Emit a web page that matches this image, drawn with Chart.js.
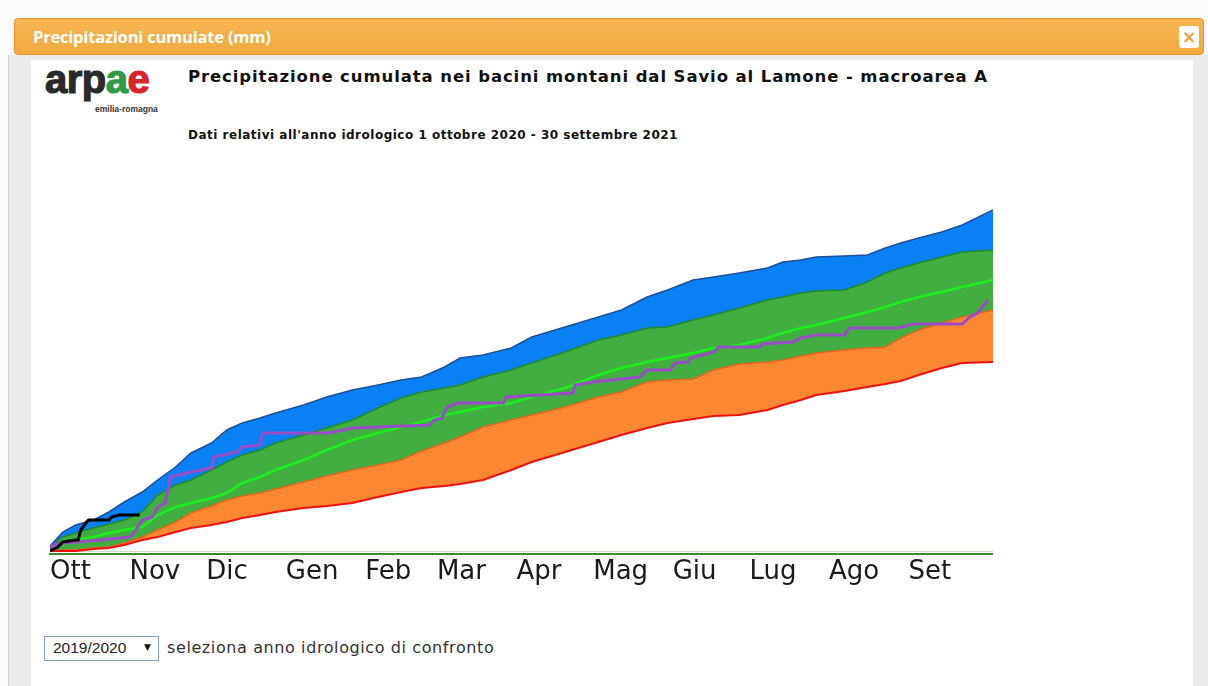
<!DOCTYPE html>
<html>
<head>
<meta charset="utf-8">
<script src="https://cdn.jsdelivr.net/npm/chart.js@4.4.1/dist/chart.umd.min.js"></script>
<style>
  html, body { margin:0; padding:0; }
  body { width:1208px; height:686px; overflow:hidden; background:#fbfbfb; position:relative; font-family:"DejaVu Sans", sans-serif; }
  .backdrop { position:absolute; left:8px; top:55px; width:1200px; height:631px; background:#ebebeb; border-left:1px solid #cfcfcf; }
  .panel { position:absolute; left:31px; top:60px; width:1162px; height:626px; background:#fff; }
  .header { position:absolute; left:14px; top:18px; width:1188px; height:35px; border:1px solid #e3952d; border-radius:4px;
            background:linear-gradient(to bottom, #f7b654 0%, #f2a83d 100%); }
  .header .t { position:absolute; left:18px; top:6px; color:#fff; font-family:"Open Sans", sans-serif; font-weight:700; font-size:16.5px; letter-spacing:-0.2px; }
  .header .x { position:absolute; right:4px; top:7px; width:20px; height:22px; background:#fff; border-radius:3px; color:#f0a03a;
               font-family:"DejaVu Sans", sans-serif; font-weight:bold; font-size:17px; line-height:22px; text-align:center; }
  .logo { position:absolute; left:45px; top:57px; font-family:"Liberation Sans", sans-serif; font-weight:bold; font-size:40px; letter-spacing:-0.5px; color:#2a2a2a; -webkit-text-stroke:1.2px currentColor; }
  .logo .g { color:#2f9a47; } .logo .r { color:#d8262c; }
  .logosub { position:absolute; left:95px; top:104px; font-family:"Liberation Sans", sans-serif; font-weight:bold; font-size:8.5px; color:#333; }
  .title { position:absolute; left:188px; top:67px; font-family:"DejaVu Sans", sans-serif; font-weight:bold; font-size:16.5px; letter-spacing:0.9px; color:#111; }
  .subtitle { position:absolute; left:188px; top:128px; font-family:"DejaVu Sans", sans-serif; font-weight:bold; font-size:12px; letter-spacing:0.5px; color:#111; }
  #chartBox { position:absolute; left:47px; top:201px; width:946px; height:393px; }
  .sel { position:absolute; left:44px; top:636px; width:113px; height:23px; border:1px solid #7ea3d3; background:#fff; box-sizing:content-box; }
  .sel .v { position:absolute; left:8px; top:2px; font-family:"Liberation Sans", sans-serif; font-size:15.5px; color:#222; }
  .sel .a { position:absolute; left:99px; top:5px; font-size:9px; color:#111; }
  .selLabel { position:absolute; left:167px; top:638px; font-family:"DejaVu Sans", sans-serif; font-size:16px; letter-spacing:0.6px; color:#333; }
</style>
</head>
<body>
<div class="backdrop"></div>
<div class="panel"></div>
<div class="header"><span class="t">Precipitazioni cumulate (mm)</span><span class="x">×</span></div>
<div class="logo">arp<span class="g">a</span><span class="r">e</span></div>
<div class="logosub">emilia-romagna</div>
<div class="title">Precipitazione cumulata nei bacini montani dal Savio al Lamone - macroarea A</div>
<div class="subtitle">Dati relativi all'anno idrologico 1 ottobre 2020 - 30 settembre 2021</div>
<div id="chartBox"><canvas id="c" width="946" height="393"></canvas></div>
<div class="sel"><span class="v">2019/2020</span><span class="a">▼</span></div>
<div class="selLabel">seleziona anno idrologico di confronto</div>

<script>
// Month ticks (day of hydrological year, starting 1 October)
const monthStartDays = [0,31,61,92,123,151,182,212,243,273,304,335];
const monthLabels = ['Ott','Nov','Dic','Gen','Feb','Mar','Apr','Mag','Giu','Lug','Ago','Set'];

// Climatological bands (cumulated mm)
const days = [0,5,10,17,23,29,36,42,49,55,63,69,75,82,88,99,108,118,128,137,145,154,160,169,180,188,201,214,223,233,241,251,259,269,280,286,293,299,310,319,326,332,339,348,356,368];
const maxVals = [20,76,104,124,156,196,236,284,336,392,432,484,512,532,552,584,616,644,664,684,696,736,772,784,812,856,896,936,964,1016,1044,1084,1096,1112,1132,1156,1164,1176,1180,1184,1212,1232,1252,1276,1304,1364];
const upperVals = [12,56,72,92,108,124,156,224,264,284,324,356,384,404,432,464,492,524,572,612,636,652,664,696,724,752,796,844,864,892,896,924,944,972,1004,1016,1032,1040,1044,1076,1112,1132,1152,1176,1196,1204];
const meanVals = [8,32,44,56,72,84,96,144,176,192,212,232,272,296,324,364,404,444,472,496,516,544,556,576,592,616,652,704,732,756,772,792,812,824,852,872,892,904,932,956,976,996,1016,1036,1056,1084];
const lowerVals = [0,4,4,12,16,32,56,84,116,152,180,204,220,232,248,276,300,324,344,364,400,432,456,496,524,544,576,616,636,676,684,688,724,748,756,764,780,792,804,812,816,852,884,912,936,964];
const minVals = [0,0,0,8,12,24,44,56,76,92,104,116,132,144,156,172,180,192,216,236,252,260,268,284,324,356,396,436,464,492,512,528,540,544,564,584,604,624,640,656,668,680,704,732,752,756];

// Comparison year 2019/2020
const prevDays = [0,1,5,20,31,33,36,40,42,45,47,55,63,64,73,75,82,83,109,118,148,150,153,155,159,177,178,204,205,212,230,233,242,244,249,250,259,261,277,278,290,293,299,310,312,331,337,356,359,362,366];
const prevVals = [0,24,32,44,56,76,124,136,176,192,296,316,332,376,396,416,424,472,472,492,504,524,532,576,592,592,616,632,664,676,696,724,724,752,756,772,796,816,816,828,836,852,864,864,892,892,908,908,936,952,1004];

// Current year 2020/2021
const currDays = [0,3,5,10,11,12,14,15,23,24,27,35];
const currVals = [0,16,36,44,44,84,112,124,124,136,144,144];

const pts = (xs, ys) => xs.map((d, i) => ({x: d, y: ys[i]}));
const line = (label, data, color, width, fill, bg, order) => ({
  label, data, borderColor: color, borderWidth: width, backgroundColor: bg || 'transparent',
  fill: fill, pointRadius: 0, pointHoverRadius: 0, tension: 0, order: order
});

Chart.defaults.font.family = 'DejaVu Sans';
new Chart(document.getElementById('c'), {
  type: 'line',
  data: {
    datasets: [
      line('max', pts(days, maxVals), '#1d4f9a', 1.5, '+1', '#0a80f5', 10),
      line('75', pts(days, upperVals), '#1f8a2a', 1.5, '+1', '#42ad40', 9),
      line('25', pts(days, lowerVals), '#e4661c', 1.5, '+1', '#fc8733', 8),
      line('min', pts(days, minVals), '#ee1111', 2, false, null, 7),
      line('media', pts(days, meanVals), '#1cf01c', 2.5, false, null, 3),
      line('2019/2020', pts(prevDays, prevVals), '#9a4cc8', 3, false, null, 2),
      line('2020/2021', pts(currDays, currVals), '#000000', 3, false, null, 1)
    ]
  },
  options: {
    responsive: false,
    animation: false,
    devicePixelRatio: 1,
    layout: { padding: 0, autoPadding: false },
    plugins: { legend: { display: false }, tooltip: { enabled: false } },
    scales: {
      x: {
        type: 'linear', min: 0, max: 368,
        afterBuildTicks: s => { s.ticks = monthStartDays.map(v => ({value: v})); },
        afterFit: s => { s.height = 40; },
        ticks: {
          align: 'start', padding: 3, color: '#1a1a1a', maxRotation: 0, autoSkip: false,
          font: { size: 26, family: 'DejaVu Sans' },
          callback: v => monthLabels[monthStartDays.indexOf(v)]
        },
        grid: { display: false, drawTicks: false },
        border: { display: true, color: '#3b8a2c', width: 2 }
      },
      y: {
        min: -12, max: 1400,
        afterBuildTicks: s => { s.ticks = [{value: 0}]; },
        afterFit: s => { s.width = 0; },
        ticks: { display: false },
        grid: { color: '#cfdcc6', lineWidth: 1, drawTicks: false },
        border: { display: false }
      }
    }
  }
});
</script>
</body>
</html>
